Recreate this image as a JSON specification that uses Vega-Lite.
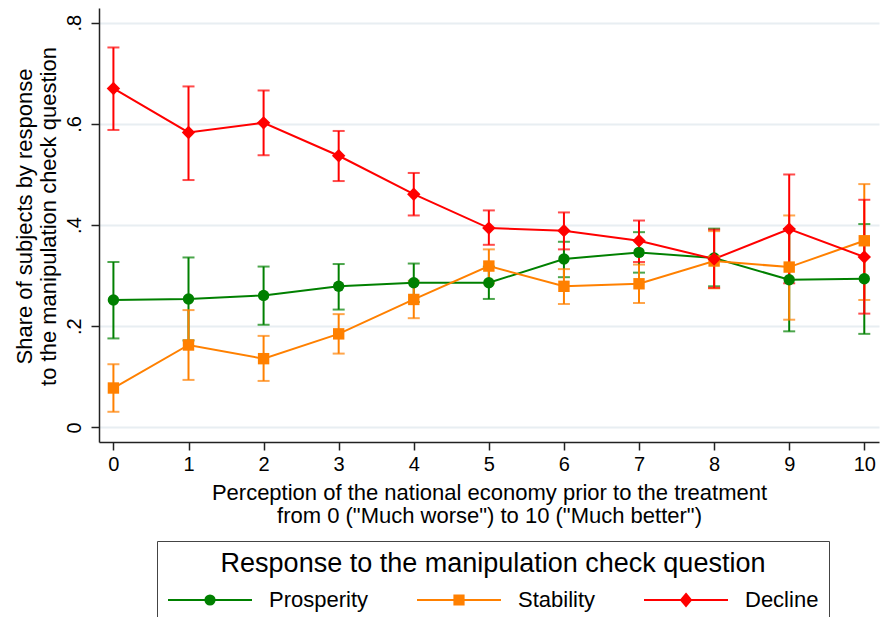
{
  "$schema": "https://vega.github.io/schema/vega-lite/v6.json",
  "width": 780,
  "height": 434,
  "autosize": {"type": "none"},
  "padding": {"left": 99, "top": 8, "right": 2, "bottom": 175},
  "background": "white",
  "config": {
    "view": {"stroke": null},
    "font": "Liberation Sans",
    "legend": {
      "orient": "none",
      "legendX": 58,
      "legendY": 533,
      "direction": "horizontal",
      "columns": 3,
      "titleAnchor": "middle",
      "titleFontSize": 27,
      "titleFontWeight": "normal",
      "titleColor": "black",
      "titleLimit": 1000,
      "titlePadding": 11,
      "labelFontSize": 22,
      "labelColor": "black",
      "labelLimit": 300,
      "strokeColor": "#444444",
      "fillColor": "white",
      "padding": 10,
      "symbolSize": 196,
      "symbolOffset": 32,
      "labelOffset": 48,
      "columnPadding": 44,
      "symbolStrokeWidth": 2
    }
  },
  "data": {
    "values": [
      {"series": "Prosperity", "x": 0, "y": 0.252, "lo": 0.176, "hi": 0.327},
      {"series": "Prosperity", "x": 1, "y": 0.254, "lo": 0.172, "hi": 0.336},
      {"series": "Prosperity", "x": 2, "y": 0.261, "lo": 0.203, "hi": 0.318},
      {"series": "Prosperity", "x": 3, "y": 0.279, "lo": 0.233, "hi": 0.323},
      {"series": "Prosperity", "x": 4, "y": 0.286, "lo": 0.248, "hi": 0.324},
      {"series": "Prosperity", "x": 5, "y": 0.286, "lo": 0.254, "hi": 0.318},
      {"series": "Prosperity", "x": 6, "y": 0.333, "lo": 0.297, "hi": 0.367},
      {"series": "Prosperity", "x": 7, "y": 0.346, "lo": 0.306, "hi": 0.386},
      {"series": "Prosperity", "x": 8, "y": 0.335, "lo": 0.279, "hi": 0.393},
      {"series": "Prosperity", "x": 9, "y": 0.292, "lo": 0.190, "hi": 0.392},
      {"series": "Prosperity", "x": 10, "y": 0.294, "lo": 0.185, "hi": 0.402},
      {"series": "Stability", "x": 0, "y": 0.078, "lo": 0.031, "hi": 0.125},
      {"series": "Stability", "x": 1, "y": 0.163, "lo": 0.094, "hi": 0.232},
      {"series": "Stability", "x": 2, "y": 0.136, "lo": 0.092, "hi": 0.181},
      {"series": "Stability", "x": 3, "y": 0.185, "lo": 0.146, "hi": 0.224},
      {"series": "Stability", "x": 4, "y": 0.253, "lo": 0.216, "hi": 0.290},
      {"series": "Stability", "x": 5, "y": 0.319, "lo": 0.285, "hi": 0.352},
      {"series": "Stability", "x": 6, "y": 0.279, "lo": 0.244, "hi": 0.313},
      {"series": "Stability", "x": 7, "y": 0.284, "lo": 0.246, "hi": 0.322},
      {"series": "Stability", "x": 8, "y": 0.329, "lo": 0.275, "hi": 0.388},
      {"series": "Stability", "x": 9, "y": 0.317, "lo": 0.213, "hi": 0.419},
      {"series": "Stability", "x": 10, "y": 0.369, "lo": 0.252, "hi": 0.481},
      {"series": "Decline", "x": 0, "y": 0.670, "lo": 0.588, "hi": 0.751},
      {"series": "Decline", "x": 1, "y": 0.583, "lo": 0.489, "hi": 0.674},
      {"series": "Decline", "x": 2, "y": 0.602, "lo": 0.538, "hi": 0.666},
      {"series": "Decline", "x": 3, "y": 0.537, "lo": 0.487, "hi": 0.586},
      {"series": "Decline", "x": 4, "y": 0.461, "lo": 0.419, "hi": 0.503},
      {"series": "Decline", "x": 5, "y": 0.394, "lo": 0.361, "hi": 0.429},
      {"series": "Decline", "x": 6, "y": 0.389, "lo": 0.352, "hi": 0.425},
      {"series": "Decline", "x": 7, "y": 0.369, "lo": 0.327, "hi": 0.409},
      {"series": "Decline", "x": 8, "y": 0.333, "lo": 0.276, "hi": 0.391},
      {"series": "Decline", "x": 9, "y": 0.392, "lo": 0.285, "hi": 0.500},
      {"series": "Decline", "x": 10, "y": 0.337, "lo": 0.225, "hi": 0.450}
    ]
  },
  "encoding": {
    "x": {
      "field": "x",
      "type": "quantitative",
      "scale": {"domain": [-0.192, 10.196], "nice": false, "zero": false},
      "title": ["Perception of the national economy prior to the treatment", "from 0 (\"Much worse\") to 10 (\"Much better\")"],
      "axis": {
        "values": [0, 1, 2, 3, 4, 5, 6, 7, 8, 9, 10],
        "format": "d",
        "grid": false,
        "labelFontSize": 20,
        "labelColor": "black",
        "labelPadding": 4,
        "tickSize": 8,
        "tickColor": "#222222",
        "tickWidth": 1.5,
        "domainColor": "#222222",
        "domainWidth": 1.5,
        "titleFontSize": 22,
        "titleFontWeight": "normal",
        "titleColor": "black",
        "titleBaseline": "top",
        "titleY": 40,
        "titleLineHeight": 23
      }
    },
    "y": {
      "field": "y",
      "type": "quantitative",
      "scale": {"domain": [-0.0287, 0.829], "nice": false, "zero": false},
      "title": ["Share of subjects by response", "to the manipulation check question"],
      "axis": {
        "values": [0, 0.2, 0.4, 0.6, 0.8],
        "labelExpr": "datum.value == 0 ? '0' : replace(format(datum.value, '.1f'), '0.', '.')",
        "labelAngle": -90,
        "labelAlign": "center",
        "labelBaseline": "alphabetic",
        "labelPadding": 11,
        "labelFontSize": 20,
        "labelColor": "black",
        "tickSize": 8,
        "tickColor": "#222222",
        "tickWidth": 1.5,
        "domainColor": "#222222",
        "domainWidth": 1.5,
        "grid": true,
        "gridColor": "#e8eef2",
        "gridWidth": 2,
        "titleFontSize": 22,
        "titleFontWeight": "normal",
        "titleColor": "black",
        "titleAngle": -90,
        "titleX": -85,
        "titleY": 208,
        "titleAlign": "center",
        "titleBaseline": "top",
        "titleLineHeight": 24
      }
    }
  },
  "layer": [
    {
      "transform": [{"filter": "datum.series === 'Prosperity'"}],
      "mark": {"type": "errorbar", "color": "#008000", "thickness": 2, "ticks": {"size": 12, "thickness": 2}},
      "encoding": {"y": {"field": "lo", "type": "quantitative", "title": ["Share of subjects by response", "to the manipulation check question"]}, "y2": {"field": "hi"}}
    },
    {
      "transform": [{"filter": "datum.series === 'Stability'"}],
      "mark": {"type": "errorbar", "color": "#ff8000", "thickness": 2, "ticks": {"size": 12, "thickness": 2}},
      "encoding": {"y": {"field": "lo", "type": "quantitative", "title": ["Share of subjects by response", "to the manipulation check question"]}, "y2": {"field": "hi"}}
    },
    {
      "transform": [{"filter": "datum.series === 'Decline'"}],
      "mark": {"type": "errorbar", "color": "#ff0000", "thickness": 2, "ticks": {"size": 12, "thickness": 2}},
      "encoding": {"y": {"field": "lo", "type": "quantitative", "title": ["Share of subjects by response", "to the manipulation check question"]}, "y2": {"field": "hi"}}
    },
    {
      "transform": [{"filter": "datum.series === 'Prosperity'"}],
      "mark": {"type": "line", "color": "#008000", "strokeWidth": 2},
      "encoding": {}
    },
    {
      "transform": [{"filter": "datum.series === 'Stability'"}],
      "mark": {"type": "line", "color": "#ff8000", "strokeWidth": 2},
      "encoding": {}
    },
    {
      "transform": [{"filter": "datum.series === 'Decline'"}],
      "mark": {"type": "line", "color": "#ff0000", "strokeWidth": 2},
      "encoding": {}
    },
    {
      "transform": [{"filter": "datum.series === 'Prosperity'"}],
      "mark": {"type": "point", "shape": "circle", "filled": true, "opacity": 1, "color": "#008000", "size": 130}
    },
    {
      "transform": [{"filter": "datum.series === 'Stability'"}],
      "mark": {"type": "point", "shape": "square", "filled": true, "opacity": 1, "color": "#ff8000", "size": 130}
    },
    {
      "transform": [{"filter": "datum.series === 'Decline'"}],
      "mark": {"type": "point", "shape": "diamond", "filled": true, "opacity": 1, "color": "#ff0000", "size": 180}
    },
    {
      "transform": [{"filter": "datum.x > 100"}],
      "mark": {"type": "point", "filled": false, "opacity": 1, "size": 196, "strokeWidth": 2},
      "encoding": {
        "color": {
          "field": "series",
          "type": "nominal",
          "title": "Response to the manipulation check question",
          "scale": {"domain": ["Prosperity", "Stability", "Decline"], "range": ["#008000", "#ff8000", "#ff0000"]}
        },
        "shape": {
          "field": "series",
          "type": "nominal",
          "title": "Response to the manipulation check question",
          "scale": {
            "domain": ["Prosperity", "Stability", "Decline"],
            "range": [
              "M-6,0H6M-0.657,0A0.657,0.657,0,1,0,0.657,0A0.657,0.657,0,1,0,-0.657,0M-0.371,0A0.371,0.371,0,1,0,0.371,0A0.371,0.371,0,1,0,-0.371,0M-0.114,0A0.114,0.114,0,1,0,0.114,0A0.114,0.114,0,1,0,-0.114,0",
              "M-6,0H6M-0.657,-0.657H0.657V0.657H-0.657ZM-0.371,-0.371H0.371V0.371H-0.371ZM-0.114,-0.114H0.114V0.114H-0.114Z",
              "M-6,0H6M0,-0.857L0.714,0L0,0.857L-0.714,0ZM0,-0.514L0.43,0L0,0.514L-0.43,0ZM0,-0.171L0.143,0L0,0.171L-0.143,0Z"
            ]
          }
        }
      }
    }
  ]
}
